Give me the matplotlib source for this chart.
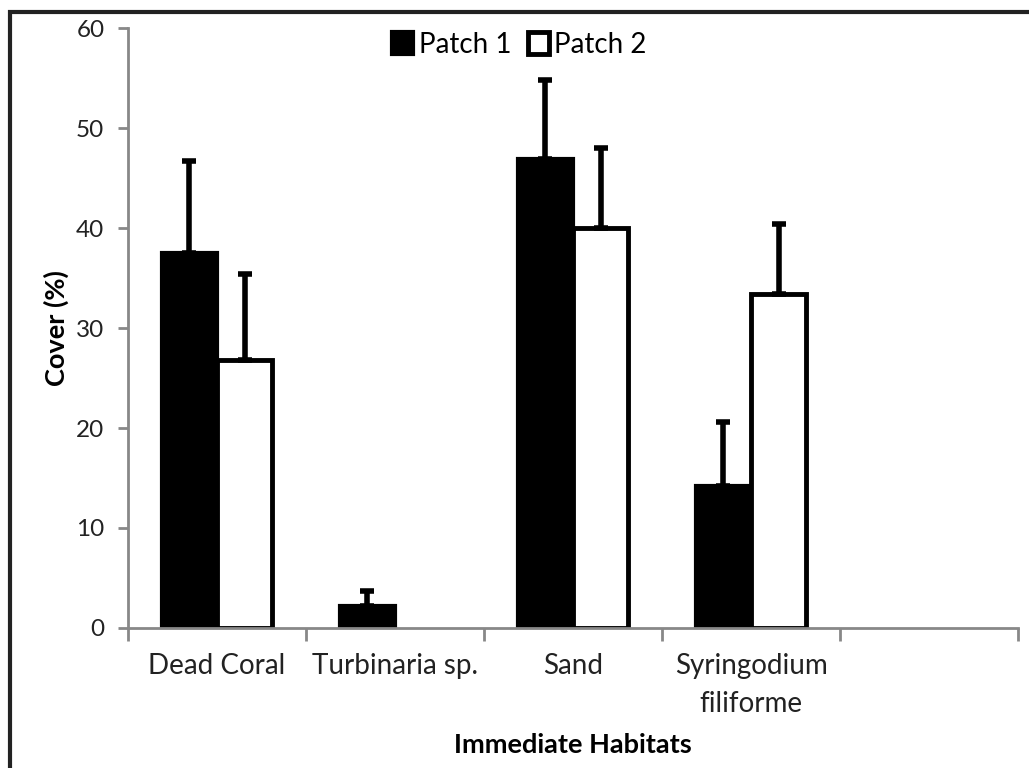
import numpy as np
import matplotlib.pyplot as plt
from matplotlib.patches import Rectangle

plt.rcParams['font.family'] = ['Lato', 'DejaVu Sans']

habitats = ['Dead Coral', 'Turbinaria sp.', 'Sand', 'Syringodium\nfiliforme', '']
patch1 = [37.5, 2.2, 46.9, 14.2, 0]
patch1_err = [9.2, 1.5, 7.9, 6.4, 0]
patch2 = [26.8, 0, 40.0, 33.4, 0]
patch2_err = [8.6, 0, 8.0, 7.0, 0]

fig = plt.figure(figsize=(10.29, 7.68), dpi=100)
ax = fig.add_axes([0.1244, 0.1823, 0.8649, 0.7812])

x = np.arange(len(habitats)) + 0.5
w = 0.31

p1 = np.array(patch1)
p2 = np.array(patch2)
m1 = p1 > 0
m2 = p2 > 0

ax.bar(x[m1] - 0.155, p1[m1], w, color='black', edgecolor='black', lw=3,
       label='Patch 1', zorder=2)
ax.bar(x[m2] + 0.155, p2[m2], w, color='white', edgecolor='black', lw=3.5,
       label='Patch 2', zorder=2)
ax.errorbar(x[m1] - 0.155, p1[m1], yerr=[np.zeros(m1.sum()), np.array(patch1_err)[m1]],
            fmt='none', ecolor='black', elinewidth=4, capsize=5, capthick=4, zorder=3)
ax.errorbar(x[m2] + 0.155, p2[m2], yerr=[np.zeros(m2.sum()), np.array(patch2_err)[m2]],
            fmt='none', ecolor='black', elinewidth=4, capsize=5, capthick=4, zorder=3)

ax.set_xlim(0, 5)
ax.set_ylim(0, 60)
ax.set_yticks(range(0, 61, 10))
ax.set_xticks(range(0, 6))
ax.set_xticklabels([])
ax.set_xticks(x, minor=True)
ax.set_xticklabels(habitats, minor=True, fontsize=20, color='#222222',
                   linespacing=1.55)
ax.tick_params(axis='x', which='major', length=9, width=2, color='#888888')
ax.tick_params(axis='x', which='minor', length=0, pad=18)
ax.tick_params(axis='y', length=7, width=2, color='#888888', labelsize=17.5,
               labelcolor='#222222', pad=10)

for s in ['top', 'right']:
    ax.spines[s].set_visible(False)
for s in ['left', 'bottom']:
    ax.spines[s].set_color('#888888')
    ax.spines[s].set_linewidth(2)

ax.set_ylabel('Cover (%)', fontsize=19.5, fontweight='bold', va='center')
ax.yaxis.set_label_coords(-0.081, 0.5)
ax.set_xlabel('Immediate Habitats', fontsize=19.5, fontweight='bold', va='center')
ax.xaxis.set_label_coords(0.5, -0.195)

ax.legend(loc='center', bbox_to_anchor=(0.44, 0.972), ncol=2, frameon=False,
          fontsize=20, handlelength=0.75, handleheight=0.85, handletextpad=0.2,
          columnspacing=0.6, borderpad=0)

fig.patches.append(Rectangle((10 / 1029, -0.1), 1.2, 1 - 12 / 768 + 0.1,
                             transform=fig.transFigure, fill=False,
                             edgecolor='#222222', lw=3))

fig.savefig('out.png', dpi=100)
